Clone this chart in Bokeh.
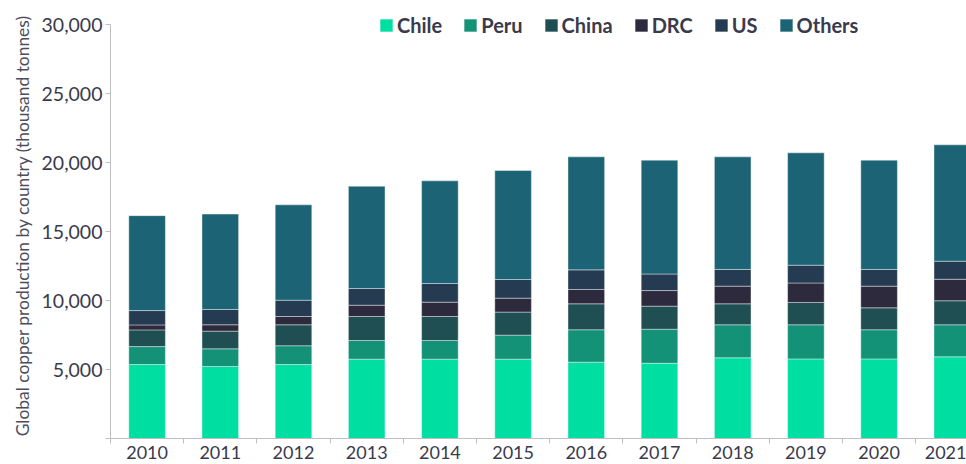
from bokeh.plotting import figure
from bokeh.models import ColumnDataSource, Range1d, FixedTicker, NumeralTickFormatter, Legend, LegendItem
from bokeh.embed import file_html
from bokeh.resources import INLINE

years = ["2010", "2011", "2012", "2013", "2014", "2015", "2016", "2017", "2018", "2019", "2020", "2021"]
chile = [5360, 5220, 5360, 5750, 5750, 5750, 5530, 5450, 5850, 5770, 5770, 5920]
peru = [1300, 1280, 1360, 1350, 1350, 1740, 2350, 2470, 2390, 2470, 2110, 2320]
china = [1210, 1280, 1520, 1740, 1740, 1670, 1880, 1670, 1520, 1620, 1590, 1740]
drc = [360, 460, 600, 820, 1040, 1010, 1040, 1130, 1280, 1410, 1570, 1560]
us = [1040, 1110, 1180, 1210, 1350, 1350, 1420, 1200, 1210, 1290, 1210, 1310]
others = [6880, 6910, 6910, 7410, 7440, 7900, 8190, 8250, 8160, 8140, 7920, 8430]
series_names = ["Chile", "Peru", "China", "DRC", "US", "Others"]
colors = ["#00DFA2", "#139278", "#1F4F52", "#2D2A3D", "#253B52", "#1C6475"]
y_ticks = [0, 5000, 10000, 15000, 20000, 25000, 30000]

xs = list(range(len(years)))
source = ColumnDataSource(data=dict(x=xs, Chile=chile, Peru=peru, China=china,
                                    DRC=drc, US=us, Others=others))

FONT = "Lato"
TXT = "#3a3a4c"

# frame extends a little above the 30,000 tick so the legend fits inside it
p = figure(width=966, height=464, output_backend="svg", toolbar_location=None,
           x_range=Range1d(-0.5, 11.194), y_range=Range1d(0, 30870),
           min_border_left=110, min_border_right=0, min_border_top=12, min_border_bottom=26)
p.outline_line_color = None
p.xgrid.visible = False
p.ygrid.visible = False

renderers = p.vbar_stack(series_names, x="x", width=0.5, color=colors, source=source,
                         line_color="white", line_width=0.4)

# X axis
p.xaxis.ticker = FixedTicker(ticks=xs, minor_ticks=[i - 0.5 for i in range(len(years) + 1)])
p.xaxis.major_label_overrides = {i: y for i, y in enumerate(years)}
p.xaxis.major_tick_line_color = None
p.xaxis.major_tick_out = 0
p.xaxis.major_tick_in = 0
p.xaxis.minor_tick_out = 5
p.xaxis.minor_tick_in = 0
p.xaxis.minor_tick_line_color = "#bfbfbf"
p.xaxis.axis_line_color = "#bfbfbf"
p.xaxis.major_label_standoff = 2
p.xaxis.major_label_text_font = FONT
p.xaxis.major_label_text_font_size = "18px"
p.xaxis.major_label_text_color = TXT

# Y axis
p.yaxis.ticker = FixedTicker(ticks=y_ticks)
p.yaxis.bounds = (y_ticks[0], y_ticks[-1])
p.yaxis.formatter = NumeralTickFormatter(format="0,0")
p.yaxis.major_label_overrides = {0: ""}
p.yaxis.axis_line_color = "#bfbfbf"
p.yaxis.major_tick_line_color = "#bfbfbf"
p.yaxis.major_tick_out = 5
p.yaxis.major_tick_in = 0
p.yaxis.minor_tick_line_color = None
p.yaxis.major_label_standoff = 3
p.yaxis.major_label_text_font = FONT
p.yaxis.major_label_text_font_size = "19.5px"
p.yaxis.major_label_text_color = TXT
p.yaxis.axis_label = "Global copper production by country (thousand tonnes)"
p.yaxis.axis_label_text_font = FONT
p.yaxis.axis_label_text_font_size = "17.4px"
p.yaxis.axis_label_text_font_style = "normal"
p.yaxis.axis_label_text_color = "#4d4d5c"
p.yaxis.axis_label_standoff = 6

items = [LegendItem(label=name, renderers=[r]) for name, r in zip(series_names, renderers)]
legend = Legend(items=items, location=(268, 401), orientation="horizontal",
                glyph_width=16, glyph_height=16, label_standoff=3, spacing=20,
                padding=0, margin=0, border_line_color=None, background_fill_alpha=0,
                label_text_font=FONT, label_text_font_size="20px",
                label_text_font_style="bold", label_text_color=TXT)
p.add_layout(legend, "center")

open("out.html", "w").write(file_html(p, INLINE))
